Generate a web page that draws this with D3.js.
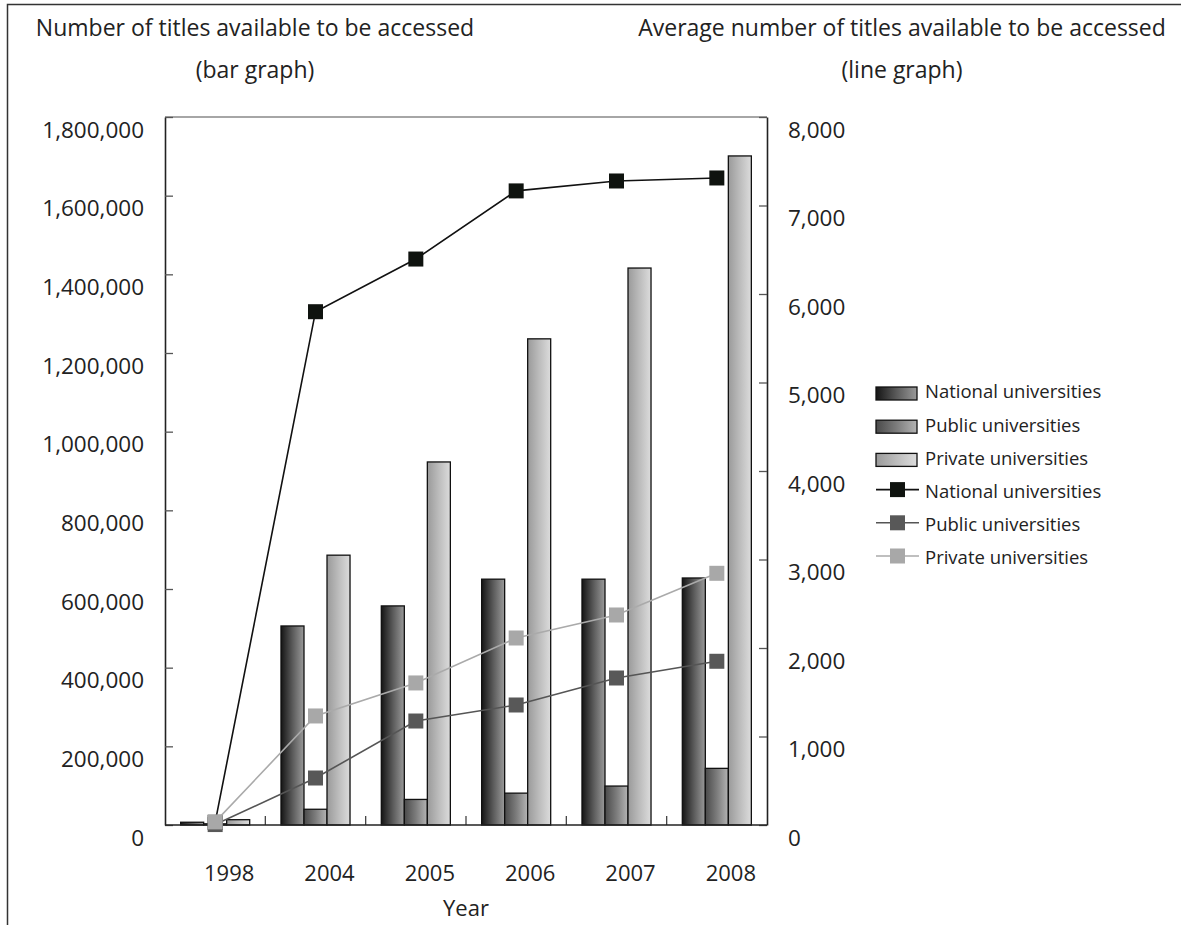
<!DOCTYPE html>
<html>
<head>
<meta charset="utf-8">
<script src="https://cdn.jsdelivr.net/npm/d3@7"></script>
<style>
  html, body { margin: 0; padding: 0; background: #fff; }
  svg { display: block; }
  text { font-family: "Open Sans", "Noto Sans", sans-serif; fill: #222; }
</style>
</head>
<body>
<svg id="chart" width="1181" height="925"></svg>
<script>
// Survey years on the category axis
const years = ["1998", "2004", "2005", "2006", "2007", "2008"];
const seriesNames = ["National universities", "Public universities", "Private universities"];

// Number of titles available to be accessed (bars, left axis)
const barNational = [7000, 506000, 557000, 625000, 625000, 628000];
const barPublic   = [3000, 40000, 65000, 81000, 99000, 144000];
const barPrivate  = [13500, 686000, 923000, 1236000, 1416000, 1701000];

// Average number of titles available to be accessed (lines, right axis)
const lineNational = [30, 5800, 6395, 7165, 7277, 7311];
const linePublic   = [5, 531, 1175, 1356, 1661, 1850];
const linePrivate  = [35, 1232, 1605, 2113, 2373, 2844];

const leftTicks  = [0, 200000, 400000, 600000, 800000, 1000000, 1200000, 1400000, 1600000, 1800000];
const rightTicks = [0, 1000, 2000, 3000, 4000, 5000, 6000, 7000, 8000];

const svg = d3.select("#chart");
const X0 = 165, X1 = 767, Y0 = 825, Y1 = 117;

// Page frame (left and top edges)
svg.append("path").attr("d", "M7.5,925 V4.5 H1181")
  .attr("fill", "none").attr("stroke", "#333").attr("stroke-width", 1.5);

// Scales
const x = d3.scaleBand().domain(years).range([X0, X1]);
const xs = d3.scaleBand().domain(seriesNames).range([0, x.bandwidth()]).paddingInner(0).paddingOuter(0.68);
const yL = d3.scaleLinear().domain([0, 1800000]).range([Y0, Y1]);
const yR = d3.scaleLinear().domain([0, 8000]).range([Y0, Y1]);

// Gradients for bars
const defs = svg.append("defs");
const grads = [
  ["gNat", "#151515", "#5a5a5a", "#9a9a9a"],
  ["gPub", "#4a4a4a", "#7c7c7c", "#b4b4b4"],
  ["gPri", "#9a9a9a", "#bcbcbc", "#dcdcdc"]
];
grads.forEach(([id, c0, c1, c2]) => {
  const g = defs.append("linearGradient").attr("id", id)
    .attr("x1", "0%").attr("x2", "100%").attr("y1", "0%").attr("y2", "0%");
  g.append("stop").attr("offset", "0%").attr("stop-color", c0);
  g.append("stop").attr("offset", "50%").attr("stop-color", c1);
  g.append("stop").attr("offset", "100%").attr("stop-color", c2);
});
const fills = ["url(#gNat)", "url(#gPub)", "url(#gPri)"];

// Plot frame top edge
svg.append("line").attr("x1", X0).attr("x2", X1).attr("y1", Y1).attr("y2", Y1)
  .attr("stroke", "#888").attr("stroke-width", 1.5);

// Bars
const barSeries = [barNational, barPublic, barPrivate];
const barRows = [];
years.forEach((yr, i) => seriesNames.forEach((s, j) => barRows.push({ yr, s, j, v: barSeries[j][i] })));
svg.append("g").selectAll("rect").data(barRows).join("rect")
  .attr("x", d => x(d.yr) + xs(d.s))
  .attr("width", xs.bandwidth())
  .attr("y", d => yL(d.v))
  .attr("height", d => Y0 - yL(d.v))
  .attr("fill", d => fills[d.j])
  .attr("stroke", "#111").attr("stroke-width", 1.3);

// Left axis
const axL = svg.append("g").attr("transform", `translate(${X0},0)`)
  .call(d3.axisLeft(yL).tickValues(leftTicks).tickFormat(d3.format(",")).tickSizeInner(-8).tickSizeOuter(0).tickPadding(21));
// Right axis
const axR = svg.append("g").attr("transform", `translate(${X1},0)`)
  .call(d3.axisRight(yR).tickValues(rightTicks).tickFormat(d3.format(",")).tickSizeInner(-8).tickSizeOuter(0).tickPadding(21));
[axL, axR].forEach(ax => {
  ax.select(".domain").attr("stroke", "#222").attr("stroke-width", 1.6);
  ax.selectAll(".tick line").attr("stroke", "#555").attr("stroke-width", 1.3);
  ax.selectAll(".tick text").attr("y", 13).attr("font-size", 22.5)
    .attr("font-family", "'Noto Sans', sans-serif").attr("fill", "#222");
});

// Category axis
const axB = svg.append("g").attr("transform", `translate(0,${Y0})`)
  .call(d3.axisBottom(x).tickSize(0).tickPadding(0));
axB.select(".domain").remove();
axB.selectAll(".tick text").attr("dx", 14).attr("dy", 0).attr("y", 56)
  .attr("font-size", 22).attr("font-family", "'Noto Sans', sans-serif").attr("fill", "#222");
// Inward ticks between categories
svg.append("g").selectAll("line").data(years.slice(1)).join("line")
  .attr("x1", d => x(d)).attr("x2", d => x(d))
  .attr("y1", Y0).attr("y2", Y0 - 9)
  .attr("stroke", "#444").attr("stroke-width", 1.3);
svg.append("line").attr("x1", X0).attr("x2", X1).attr("y1", Y0).attr("y2", Y0)
  .attr("stroke", "#222").attr("stroke-width", 1.6);

// Lines with square markers
const lineSeries = [
  { vals: lineNational, color: "#111", marker: "#0f130f" },
  { vals: linePublic,   color: "#555", marker: "#585858" },
  { vals: linePrivate,  color: "#aaa", marker: "#a8a8a8" }
];
const cx = yr => x(yr) + x.bandwidth() / 2;
const lineGen = d3.line().x(d => cx(d.yr)).y(d => yR(d.v));
const M = 15;
lineSeries.forEach(s => {
  const pts = years.map((yr, i) => ({ yr, v: s.vals[i] }));
  svg.append("path").datum(pts).attr("d", lineGen)
    .attr("fill", "none").attr("stroke", s.color).attr("stroke-width", 1.6);
  svg.append("g").selectAll("rect").data(pts).join("rect")
    .attr("x", d => cx(d.yr) - M / 2).attr("y", d => yR(d.v) - M / 2)
    .attr("width", M).attr("height", M).attr("fill", s.marker);
});

// Axis titles
const titles = [
  ["Number of titles available to be accessed", 255, 36],
  ["(bar graph)", 255, 78],
  ["Average number of titles available to be accessed", 902, 36],
  ["(line graph)", 902, 78]
];
svg.append("g").selectAll("text").data(titles).join("text")
  .attr("x", d => d[1]).attr("y", d => d[2])
  .attr("text-anchor", "middle").attr("font-size", 23).text(d => d[0]);
svg.append("text").attr("x", 466).attr("y", 916).attr("text-anchor", "middle")
  .attr("font-size", 22).text("Year");

// Legend
const legend = svg.append("g");
const LX = 876, LY = 393, LS = 33.2;
seriesNames.forEach((name, j) => {
  const y = LY + j * LS;
  legend.append("rect").attr("x", LX).attr("y", y - 6).attr("width", 41).attr("height", 13)
    .attr("fill", fills[j]).attr("stroke", "#111").attr("stroke-width", 1.3);
  legend.append("text").attr("x", 925).attr("y", y - 1).attr("dy", "0.35em")
    .attr("font-size", 18.5).text(name);
});
lineSeries.forEach((s, j) => {
  const y = LY + (j + 3) * LS - 3;
  legend.append("line").attr("x1", LX).attr("x2", 919).attr("y1", y).attr("y2", y)
    .attr("stroke", s.color).attr("stroke-width", 1.6);
  legend.append("rect").attr("x", 897.5 - M / 2).attr("y", y - M / 2).attr("width", M).attr("height", M)
    .attr("fill", s.marker);
  legend.append("text").attr("x", 925).attr("y", y + 2).attr("dy", "0.35em")
    .attr("font-size", 18.5).text(seriesNames[j]);
});
</script>
</body>
</html>
